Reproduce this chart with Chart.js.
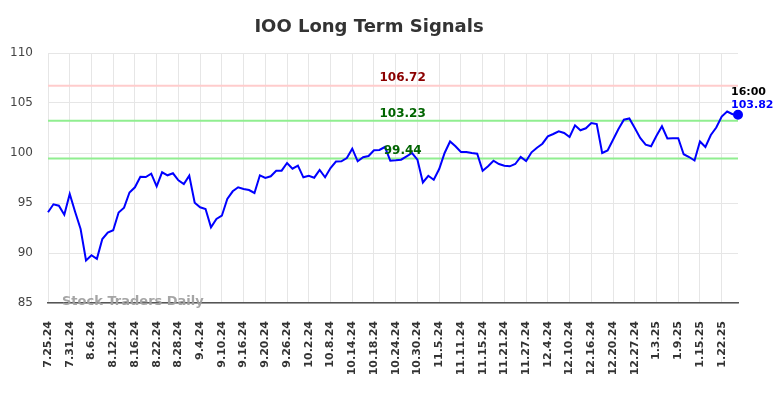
<!DOCTYPE html>
<html>
<head>
<meta charset="utf-8">
<script src="https://cdn.jsdelivr.net/npm/chart.js@4.4.1/dist/chart.umd.min.js"></script>
<style>
  html, body { margin: 0; padding: 0; background: #ffffff; }
  #wrap { width: 784px; height: 398px; }
</style>
</head>
<body>
<div id="wrap"><canvas id="c" width="784" height="398"></canvas></div>
<script>
const dates = [
  "7.25.24","7.26.24","7.29.24","7.30.24","7.31.24",
  "8.1.24","8.2.24","8.5.24","8.6.24",
  "8.7.24","8.8.24","8.9.24","8.12.24",
  "8.13.24","8.14.24","8.15.24","8.16.24",
  "8.19.24","8.20.24","8.21.24","8.22.24",
  "8.23.24","8.26.24","8.27.24","8.28.24",
  "8.29.24","8.30.24","9.3.24","9.4.24",
  "9.5.24","9.6.24","9.9.24","9.10.24",
  "9.11.24","9.12.24","9.13.24","9.16.24",
  "9.17.24","9.18.24","9.19.24","9.20.24",
  "9.23.24","9.24.24","9.25.24","9.26.24",
  "9.27.24","9.30.24","10.1.24","10.2.24",
  "10.3.24","10.4.24","10.7.24","10.8.24",
  "10.9.24","10.10.24","10.11.24","10.14.24",
  "10.15.24","10.16.24","10.17.24","10.18.24",
  "10.21.24","10.22.24","10.23.24","10.24.24",
  "10.25.24","10.28.24","10.29.24","10.30.24",
  "10.31.24","11.1.24","11.4.24","11.5.24",
  "11.6.24","11.7.24","11.8.24","11.11.24",
  "11.12.24","11.13.24","11.14.24","11.15.24",
  "11.18.24","11.19.24","11.20.24","11.21.24",
  "11.22.24","11.25.24","11.26.24","11.27.24",
  "11.29.24","12.2.24","12.3.24","12.4.24",
  "12.5.24","12.6.24","12.9.24","12.10.24",
  "12.11.24","12.12.24","12.13.24","12.16.24",
  "12.17.24","12.18.24","12.19.24","12.20.24",
  "12.23.24","12.24.24","12.26.24","12.27.24",
  "12.30.24","12.31.24","1.2.25","1.3.25",
  "1.6.25","1.7.25","1.8.25","1.9.25",
  "1.10.25","1.13.25","1.14.25","1.15.25",
  "1.16.25","1.17.25","1.21.25","1.22.25",
  "1.23.25","1.24.25","1.27.25"
];

const prices = [
  94.07, 94.87, 94.73, 93.83, 95.90, 94.10, 92.40, 89.25, 89.78, 89.42,
  91.40, 92.05, 92.28, 94.05, 94.53, 96.05, 96.57, 97.63, 97.60, 97.93,
  96.67, 98.07, 97.77, 97.97, 97.27, 96.90, 97.73, 95.03, 94.57, 94.40,
  92.57, 93.40, 93.73, 95.40, 96.17, 96.57, 96.40, 96.30, 96.00, 97.77,
  97.50, 97.67, 98.23, 98.23, 99.00, 98.43, 98.73, 97.57, 97.73, 97.53,
  98.30, 97.57, 98.50, 99.15, 99.17, 99.50, 100.43, 99.17, 99.57, 99.70,
  100.27, 100.30, 100.60, 99.23, 99.27, 99.33, 99.67, 100.00, 99.33, 97.05,
  97.72, 97.32, 98.40, 100.00, 101.15, 100.67, 100.10, 100.10, 100.00, 99.93,
  98.23, 98.67, 99.23, 98.90, 98.73, 98.67, 98.90, 99.60, 99.20, 100.07,
  100.53, 100.93, 101.67, 101.90, 102.17, 102.00, 101.60, 102.77, 102.27, 102.47,
  103.00, 102.90, 100.00, 100.25, 101.33, 102.40, 103.33, 103.45, 102.50, 101.50,
  100.83, 100.67, 101.73, 102.67, 101.45, 101.47, 101.47, 99.88, 99.60, 99.25,
  101.15, 100.60, 101.80, 102.55, 103.65, 104.15, 103.88, 103.82
];

const resistanceLevel = 106.72;
const upperSupport = 103.23;
const lowerSupport = 99.44;
const lastTime = "16:00";
const lastPrice = 103.82;
const yTicks = [85, 90, 95, 100, 105, 110];

const FONT = "'DejaVu Sans', 'Liberation Sans', sans-serif";

const levelPlugin = {
  id: 'levels',
  beforeDatasetsDraw(chart) {
    const { ctx, chartArea, scales } = chart;
    const y = scales.y;
    const lines = [
      { v: resistanceLevel, color: '#ffcccc' },
      { v: upperSupport, color: '#90ee90' },
      { v: lowerSupport, color: '#90ee90' }
    ];
    ctx.save();
    ctx.lineWidth = 2;
    lines.forEach(l => {
      const py = y.getPixelForValue(l.v);
      ctx.strokeStyle = l.color;
      ctx.beginPath();
      ctx.moveTo(chartArea.left, py);
      ctx.lineTo(chartArea.right, py);
      ctx.stroke();
    });
    ctx.restore();
  },
  afterDraw(chart) {
    const { ctx, chartArea, scales } = chart;
    const y = scales.y, x = scales.x;
    const cx = chartArea.left + (chartArea.right - chartArea.left) * 0.514;
    ctx.save();
    ctx.textAlign = 'center';
    ctx.textBaseline = 'middle';
    ctx.font = 'bold 12px ' + FONT;
    ctx.fillStyle = '#8b0000';
    ctx.fillText(resistanceLevel.toFixed(2), cx, y.getPixelForValue(resistanceLevel) - 8);
    ctx.fillStyle = '#006400';
    ctx.fillText(upperSupport.toFixed(2), cx, y.getPixelForValue(upperSupport) - 7);
    ctx.fillText(lowerSupport.toFixed(2), cx, y.getPixelForValue(lowerSupport) - 8);

    // last value annotation
    const li = prices.length - 1;
    const px = x.getPixelForValue(li);
    const py = y.getPixelForValue(prices[li]);
    ctx.textAlign = 'left';
    ctx.font = 'bold 11px ' + FONT;
    ctx.fillStyle = '#000000';
    ctx.fillText(lastTime, px - 7, py - 23);
    ctx.fillStyle = '#0000ff';
    ctx.fillText(lastPrice.toFixed(2), px - 7, py - 10);

    // watermark
    ctx.font = 'bold 13px ' + FONT;
    ctx.fillStyle = 'rgba(160,160,160,0.95)';
    ctx.fillText('Stock Traders Daily', chartArea.left + 14, chartArea.bottom - 1);
    ctx.restore();
  }
};

new Chart(document.getElementById('c'), {
  type: 'line',
  data: {
    labels: dates,
    datasets: [{
      data: prices,
      borderColor: '#0000ff',
      backgroundColor: '#0000ff',
      borderWidth: 2,
      tension: 0,
      fill: false,
      pointRadius: ctx => ctx.dataIndex === prices.length - 1 ? 4 : 0,
      pointHoverRadius: 0,
      pointBackgroundColor: '#0000ff',
      pointBorderColor: '#0000ff',
      clip: false
    }]
  },
  options: {
    responsive: false,
    animation: false,
    devicePixelRatio: 1,
    layout: { padding: { left: 0, right: 46, top: 0, bottom: 0 } },
    plugins: {
      legend: { display: false },
      tooltip: { enabled: false },
      title: {
        display: true,
        text: 'IOO Long Term Signals',
        color: '#333333',
        font: { family: FONT, size: 18, weight: 'bold' },
        padding: { top: 17, bottom: 14.4 }
      }
    },
    scales: {
      x: {
        offset: false,
        grid: {
          color: ctx => (ctx.index % 4 === 0 ? '#e6e6e6' : 'rgba(0,0,0,0)'),
          lineWidth: 1,
          drawTicks: false
        },
        border: { display: true, color: '#555555', width: 1.5 },
        ticks: {
          autoSkip: false,
          minRotation: 90,
          maxRotation: 90,
          padding: 18,
          color: '#333333',
          font: { family: FONT, size: 11, weight: 'bold' },
          callback: (val, idx) => (idx % 4 === 0 ? dates[idx] : '')
        },
        afterFit: s => { s.height = 95; }
      },
      y: {
        min: yTicks[0],
        max: yTicks[yTicks.length - 1],
        afterBuildTicks: s => { s.ticks = yTicks.map(v => ({ value: v })); },
        grid: { color: '#e6e6e6', lineWidth: 1, drawTicks: false },
        border: { display: false },
        ticks: {
          padding: 15,
          color: '#444444',
          font: { family: FONT, size: 12 }
        },
        afterFit: s => { s.width = 48; }
      }
    }
  },
  plugins: [levelPlugin]
});
</script>
</body>
</html>
